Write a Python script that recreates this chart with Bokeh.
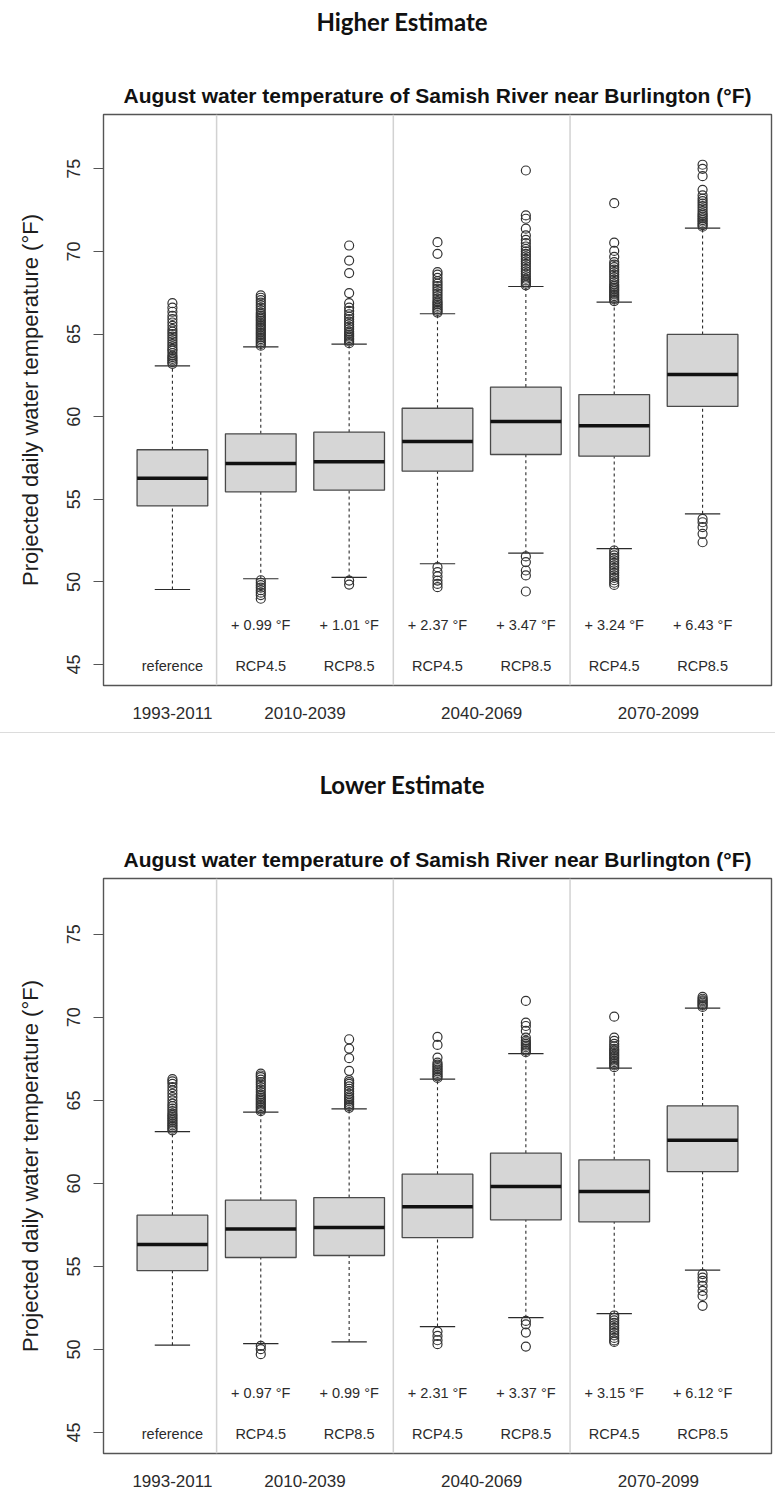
from bokeh.plotting import figure
from bokeh.layouts import column
from bokeh.models import Range1d, Span, FixedTicker, Div
from bokeh.core.properties import value
from bokeh.embed import file_html
from bokeh.resources import INLINE

# ---- shared categories -------------------------------------------------------
positions = [1, 2, 3, 4, 5, 6, 7]
scenarios = ["reference", "RCP4.5", "RCP8.5", "RCP4.5", "RCP8.5", "RCP4.5", "RCP8.5"]
periods = ["1993-2011", "2010-2039", "2040-2069", "2070-2099"]
period_centers = [1, 2.5, 4.5, 6.5]
period_breaks = [1.5, 3.5, 5.5]
y_ticks = [45, 50, 55, 60, 65, 70, 75]

chart_title = "August water temperature of Samish River near Burlington (\u00b0F)"
y_label = "Projected daily water temperature (\u00b0F)"

# ---- higher estimate ---------------------------------------------------------
hi_whisker_low = [49.54, 50.19, 50.27, 51.10, 51.74, 52.02, 54.12]
hi_q1 = [54.60, 55.45, 55.55, 56.70, 57.71, 57.61, 60.62]
hi_median = [56.28, 57.17, 57.27, 58.50, 59.71, 59.45, 62.55]
hi_q3 = [58.00, 58.96, 59.06, 60.51, 61.79, 61.34, 64.98]
hi_whisker_high = [63.08, 64.23, 64.39, 66.23, 67.88, 66.93, 71.41]
hi_change = ["", "+ 0.99 \u00b0F", "+ 1.01 \u00b0F", "+ 2.37 \u00b0F",
             "+ 3.47 \u00b0F", "+ 3.24 \u00b0F", "+ 6.43 \u00b0F"]
hi_out_upper = [
    [63.2, 63.3, 63.4, 63.5, 63.6, 63.7, 63.85, 64.0, 64.1, 64.25, 64.4, 64.55,
     64.7, 64.85, 65.0, 65.15, 65.3, 65.5, 65.7, 65.9, 66.1, 66.35, 66.6, 66.87],
    [64.3, 64.4, 64.5, 64.6, 64.7, 64.8, 64.9, 65.0, 65.1, 65.2, 65.3, 65.4,
     65.5, 65.6, 65.7, 65.8, 65.9, 66.0, 66.1, 66.2, 66.3, 66.45, 66.6, 66.75,
     66.9, 67.05, 67.2, 67.34],
    [64.45, 64.55, 64.65, 64.75, 64.85, 64.95, 65.05, 65.15, 65.3, 65.45, 65.6,
     65.75, 65.9, 66.05, 66.2, 66.4, 66.6, 66.87, 67.48, 68.69, 69.45, 70.36],
    [66.3, 66.4, 66.5, 66.6, 66.7, 66.8, 66.9, 67.0, 67.15, 67.3, 67.45, 67.6,
     67.75, 67.9, 68.05, 68.2, 68.4, 68.6, 68.75, 69.86, 70.56],
    [67.95, 68.05, 68.15, 68.25, 68.35, 68.5, 68.65, 68.8, 68.95, 69.1, 69.25,
     69.4, 69.55, 69.7, 69.85, 70.0, 70.15, 70.3, 70.5, 70.7, 70.97, 71.38,
     71.98, 72.18, 74.9],
    [67.0, 67.1, 67.2, 67.3, 67.4, 67.5, 67.6, 67.7, 67.8, 67.9, 68.0, 68.15,
     68.3, 68.45, 68.6, 68.75, 68.9, 69.05, 69.2, 69.35, 69.67, 70.03, 70.53,
     72.92],
    [71.5, 71.6, 71.7, 71.8, 71.9, 72.0, 72.1, 72.2, 72.3, 72.45, 72.6, 72.75,
     72.9, 73.05, 73.2, 73.4, 73.73, 74.56, 75.0, 75.25],
]
hi_out_lower = [
    [],
    [50.1, 49.95, 49.8, 49.65, 49.5, 49.35, 49.2, 48.98],
    [50.08, 49.84],
    [50.89, 50.59, 50.33, 50.08, 49.88, 49.68],
    [51.54, 51.2, 50.69, 50.39, 49.42],
    [51.9, 51.75, 51.6, 51.45, 51.3, 51.15, 51.0, 50.85, 50.7, 50.55, 50.4,
     50.25, 50.1, 49.95, 49.82],
    [53.81, 53.61, 53.31, 52.91, 52.4],
]

# ---- lower estimate ----------------------------------------------------------
lo_whisker_low = [50.26, 50.36, 50.46, 51.38, 51.92, 52.16, 54.78]
lo_q1 = [54.75, 55.54, 55.66, 56.74, 57.81, 57.69, 60.71]
lo_median = [56.32, 57.25, 57.34, 58.59, 59.81, 59.51, 62.60]
lo_q3 = [58.09, 58.99, 59.15, 60.56, 61.82, 61.42, 64.67]
lo_whisker_high = [63.12, 64.29, 64.49, 66.28, 67.82, 66.94, 70.55]
lo_change = ["", "+ 0.97 \u00b0F", "+ 0.99 \u00b0F", "+ 2.31 \u00b0F",
             "+ 3.37 \u00b0F", "+ 3.15 \u00b0F", "+ 6.12 \u00b0F"]
lo_out_upper = [
    [63.2, 63.3, 63.4, 63.5, 63.6, 63.7, 63.8, 63.9, 64.0, 64.1, 64.2, 64.35,
     64.5, 64.65, 64.8, 65.0, 65.2, 65.4, 65.6, 65.8, 66.0, 66.15, 66.28],
    [64.35, 64.45, 64.55, 64.65, 64.75, 64.85, 64.95, 65.05, 65.15, 65.25,
     65.35, 65.5, 65.65, 65.8, 65.95, 66.1, 66.25, 66.4, 66.5, 66.61],
    [64.55, 64.65, 64.75, 64.85, 64.95, 65.05, 65.15, 65.25, 65.4, 65.55, 65.7,
     65.85, 66.0, 66.1, 66.22, 66.78, 67.54, 68.12, 68.68],
    [66.35, 66.45, 66.55, 66.65, 66.75, 66.85, 66.95, 67.05, 67.15, 67.27,
     67.58, 68.34, 68.82],
    [67.9, 68.0, 68.1, 68.2, 68.3, 68.4, 68.5, 68.6, 68.78, 69.18, 69.48,
     69.68, 70.99],
    [67.0, 67.1, 67.2, 67.3, 67.4, 67.5, 67.6, 67.7, 67.8, 67.9, 68.0, 68.1,
     68.25, 68.4, 68.58, 68.78, 70.04],
    [70.63, 70.72, 70.79, 70.88, 70.96, 71.03, 71.12, 71.23],
]
lo_out_lower = [
    [],
    [50.22, 50.02, 49.72],
    [],
    [51.08, 50.82, 50.56, 50.32],
    [51.72, 51.52, 51.02, 50.18],
    [52.05, 51.9, 51.75, 51.6, 51.45, 51.3, 51.15, 51.0, 50.85, 50.7, 50.55,
     50.46],
    [54.54, 54.33, 54.13, 53.83, 53.53, 53.23, 52.63],
]

SANS = "Liberation Sans"
HEAD_FONT = "Lato"
BOX_W = 0.8
CAP_W = 0.4
FRAME_COLOR = "#555555"
INK = "#2b2b2b"
PAGE_W = 775


def heading(text, height, center_y):
    """Section heading above each chart, as a plain HTML block."""
    html = (
        f'<div style="width:{PAGE_W}px;height:{height}px;box-sizing:border-box;'
        f'padding-left:29px;padding-top:{center_y - 14}px;text-align:center;'
        f'font-family:{HEAD_FONT};font-weight:bold;font-size:24px;'
        f'line-height:28px;color:#111111;">{text}</div>'
    )
    return Div(text=html, width=PAGE_W, height=height, margin=0)


def boxplot_panel(whisker_low, q1, median, q3, whisker_high, change,
                  out_upper, out_lower, height, border, y_span):
    left, right, top, bottom = border
    p = figure(width=PAGE_W, height=height,
               x_range=Range1d(0.22, 7.78), y_range=Range1d(*y_span),
               output_backend="svg", toolbar_location=None,
               min_border_left=left, min_border_right=right,
               min_border_top=top, min_border_bottom=bottom,
               title=chart_title, margin=0)
    p.background_fill_color = "white"
    p.border_fill_color = "white"
    p.outline_line_color = FRAME_COLOR
    p.outline_line_width = 1.4
    p.xgrid.grid_line_color = None
    p.ygrid.grid_line_color = None

    p.title.align = "center"
    p.title.text_font = SANS
    p.title.text_font_style = "bold"
    p.title.text_font_size = "21px"
    p.title.text_color = "#111111"
    p.title.standoff = 15

    # period separators
    for b in period_breaks:
        p.add_layout(Span(location=b, dimension="height",
                          line_color="#d2d2d2", line_width=1.5))

    # whiskers (dashed) and caps
    p.segment(x0=positions, x1=positions, y0=q3, y1=whisker_high,
              line_color=INK, line_width=1.1, line_dash="3 3")
    p.segment(x0=positions, x1=positions, y0=whisker_low, y1=q1,
              line_color=INK, line_width=1.1, line_dash="3 3")
    cap_l = [x - CAP_W / 2 for x in positions]
    cap_r = [x + CAP_W / 2 for x in positions]
    p.segment(x0=cap_l, x1=cap_r, y0=whisker_high, y1=whisker_high,
              line_color=INK, line_width=1.2)
    p.segment(x0=cap_l, x1=cap_r, y0=whisker_low, y1=whisker_low,
              line_color=INK, line_width=1.2)

    # boxes and medians
    p.vbar(x=positions, width=BOX_W, bottom=q1, top=q3,
           fill_color="#d6d6d6", line_color="#4a4a4a", line_width=1.3)
    p.segment(x0=[x - BOX_W / 2 for x in positions],
              x1=[x + BOX_W / 2 for x in positions],
              y0=median, y1=median, line_color="#111111", line_width=3.5)

    # outliers
    ox, oy = [], []
    for x, ups, downs in zip(positions, out_upper, out_lower):
        for v in ups + downs:
            ox.append(x)
            oy.append(v)
    p.scatter(x=ox, y=oy, marker="circle", size=9, fill_color=None,
              line_color="#333333", line_width=1.2)

    # in-plot annotations
    p.text(x=positions, y=[47.4] * len(positions), text=change,
           text_align="center", text_baseline="middle",
           text_font=value(SANS), text_font_size="14.5px", text_color=INK)
    p.text(x=positions, y=[44.9] * len(positions), text=scenarios,
           text_align="center", text_baseline="middle",
           text_font=value(SANS), text_font_size="14.5px", text_color=INK)

    # axes
    xa = p.xaxis[0]
    xa.ticker = FixedTicker(ticks=period_centers)
    xa.major_label_overrides = {float(c): lab for c, lab in zip(period_centers, periods)}
    xa.axis_line_color = None
    xa.major_tick_line_color = None
    xa.minor_tick_line_color = None
    xa.major_tick_out = 0
    xa.major_tick_in = 0
    xa.major_label_standoff = 21
    xa.major_label_text_font = SANS
    xa.major_label_text_font_size = "17px"
    xa.major_label_text_color = INK

    ya = p.yaxis[0]
    ya.ticker = FixedTicker(ticks=y_ticks)
    ya.axis_line_color = None
    ya.major_tick_line_color = FRAME_COLOR
    ya.major_tick_line_width = 1.2
    ya.major_tick_out = 10
    ya.major_tick_in = 0
    ya.minor_tick_line_color = None
    ya.major_label_orientation = "vertical"
    ya.major_label_standoff = 13
    ya.major_label_text_font = SANS
    ya.major_label_text_font_size = "18px"
    ya.major_label_text_color = INK
    ya.axis_label = y_label
    ya.axis_label_standoff = 22
    ya.axis_label_text_font = SANS
    ya.axis_label_text_font_style = "normal"
    ya.axis_label_text_font_size = "22px"
    ya.axis_label_text_color = "#1e1e1e"
    return p


head_hi = heading("Higher Estimate", 73, 22)
top = boxplot_panel(hi_whisker_low, hi_q1, hi_median, hi_q3, hi_whisker_high,
                    hi_change, hi_out_upper, hi_out_lower,
                    height=659, border=(103, 4, 41, 47), y_span=(43.73, 78.29))
rule = Div(width=PAGE_W, height=1, margin=0, styles={"background-color": "#dcdcdc"})
head_lo = heading("Lower Estimate", 104, 52)
bottom = boxplot_panel(lo_whisker_low, lo_q1, lo_median, lo_q3, lo_whisker_high,
                       lo_change, lo_out_upper, lo_out_lower,
                       height=657, border=(100, 2, 41, 41), y_span=(43.74, 78.36))

page = column(head_hi, top, rule, head_lo, bottom, spacing=0, margin=0)
open("out.html", "w").write(file_html(page, INLINE))
